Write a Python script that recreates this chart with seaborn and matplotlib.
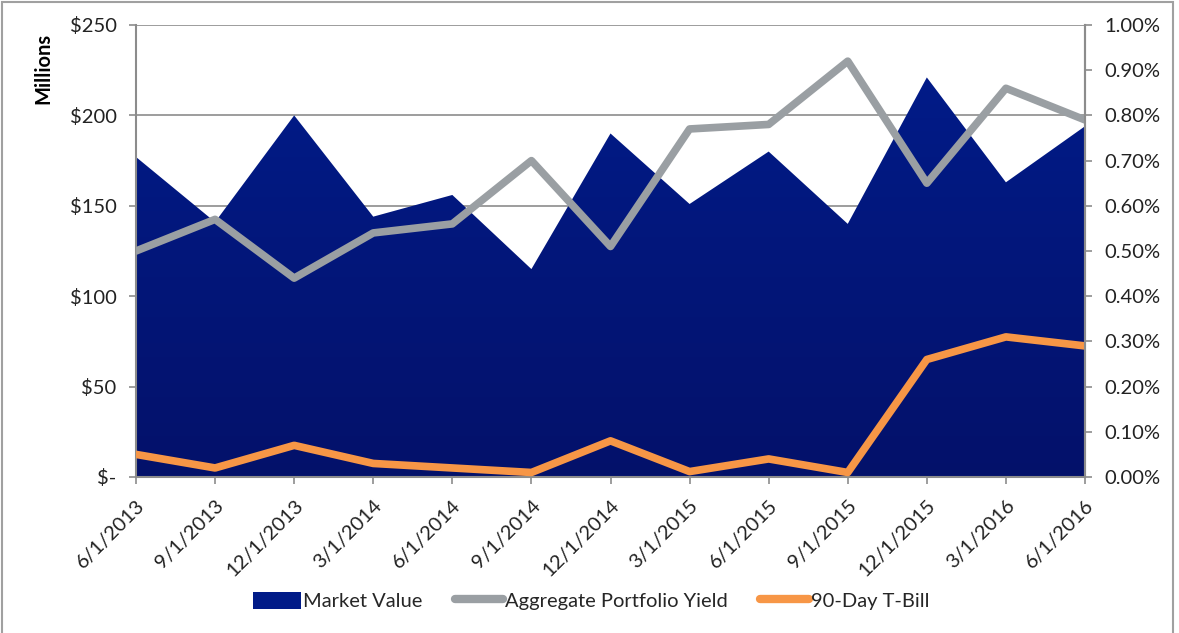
import numpy as np
import pandas as pd
import matplotlib
matplotlib.use("Agg")
import matplotlib.pyplot as plt
import seaborn as sns
from matplotlib.colors import LinearSegmentedColormap
from matplotlib.lines import Line2D
from matplotlib.patches import Patch, Rectangle
from matplotlib.ticker import FuncFormatter

# --- Data ---
dates = ["6/1/2013", "9/1/2013", "12/1/2013", "3/1/2014", "6/1/2014", "9/1/2014",
         "12/1/2014", "3/1/2015", "6/1/2015", "9/1/2015", "12/1/2015", "3/1/2016",
         "6/1/2016"]
market_value = [177, 141, 200, 144, 156, 115, 190, 151, 180, 140, 221, 163, 194]   # $ millions
portfolio_yield = [0.50, 0.57, 0.44, 0.54, 0.56, 0.70, 0.51, 0.77, 0.78, 0.92, 0.65, 0.86, 0.79]  # %
tbill_90 = [0.05, 0.02, 0.07, 0.03, 0.02, 0.01, 0.08, 0.012, 0.04, 0.01, 0.26, 0.31, 0.29]  # %

left_ticks = [0, 50, 100, 150, 200, 250]
right_ticks = [0.0, 0.1, 0.2, 0.3, 0.4, 0.5, 0.6, 0.7, 0.8, 0.9, 1.0]

# --- Style ---
NAVY_TOP = "#011b88"
NAVY_BOTTOM = "#04116a"
GREY = "#9a9fa3"
ORANGE = "#f79646"
AXIS_GREY = "#8c8c8c"
FS = 14.5

sns.set_theme(style="white")
plt.rcParams["font.family"] = ["Lato", "DejaVu Sans"]

df = pd.DataFrame({
    "pos": np.arange(len(dates)),
    "date": dates,
    "market_value": market_value,
    "yield": portfolio_yield,
    "tbill": tbill_90,
})

fig = plt.figure(figsize=(11.79, 6.33), dpi=100)
ax = fig.add_axes([136 / 1179, 1 - 477 / 633, (1085 - 136) / 1179, (477 - 25) / 633])

# gradient-filled area for market value
poly = ax.fill_between(df["pos"], 0, df["market_value"], facecolor="none",
                       edgecolor="none", zorder=2)
cmap = LinearSegmentedColormap.from_list("navy", [NAVY_BOTTOM, NAVY_TOP])
grad = np.linspace(0, 1, 256).reshape(-1, 1)
img = ax.imshow(grad, cmap=cmap, origin="lower", aspect="auto",
                extent=[0, len(dates) - 1, 0, max(market_value)], zorder=2)
img.set_clip_path(poly.get_paths()[0], transform=ax.transData)

ax.set_xlim(0, len(dates) - 1)
ax.set_ylim(0, 250)
ax.set_yticks(left_ticks)
ax.yaxis.set_major_formatter(FuncFormatter(lambda v, p: "$-" if v == 0 else f"${v:.0f}"))
ax.set_xticks(df["pos"])
ax.set_xticklabels(dates, rotation=45, ha="right", rotation_mode="anchor")
ax.grid(axis="y", color=AXIS_GREY, linewidth=1.2)
ax.set_axisbelow(True)
ax.set_ylabel("")

ax.tick_params(axis="both", labelsize=FS, colors="#222222", length=5, width=1.2,
               direction="out", color=AXIS_GREY)
ax.tick_params(axis="x", pad=9)
ax.tick_params(axis="y", pad=9)
ax.tick_params(left=True, bottom=True)
ax.spines["top"].set_visible(False)
for side in ["left", "right", "bottom"]:
    ax.spines[side].set_color(AXIS_GREY)
    ax.spines[side].set_linewidth(1.5)

# yields on the secondary axis
ax2 = ax.twinx()
sns.lineplot(data=df, x="pos", y="yield", ax=ax2, color=GREY, linewidth=5.5,
             legend=False)
sns.lineplot(data=df, x="pos", y="tbill", ax=ax2, color=ORANGE, linewidth=5.5,
             legend=False)
ax2.set_ylim(0, 1.0)
ax2.set_yticks(right_ticks)
ax2.yaxis.set_major_formatter(FuncFormatter(lambda v, p: f"{v:.2f}%"))
ax2.set_ylabel("")
ax2.set_xlabel("")
ax.set_xlabel("")
ax2.tick_params(axis="y", labelsize=FS, colors="#222222", length=5, width=1.2,
                direction="out", color=AXIS_GREY, pad=9, right=True)
for side in ["top", "left", "bottom"]:
    ax2.spines[side].set_visible(False)
ax2.spines["right"].set_color(AXIS_GREY)
ax2.spines["right"].set_linewidth(1.5)

fig.text(43 / 1179, 1 - 68 / 633, "Millions", rotation=90, ha="center", va="center",
         fontsize=FS, fontweight="bold", color="black")

handles = [
    Patch(facecolor=NAVY_TOP, edgecolor="none"),
    Line2D([], [], color=GREY, linewidth=6, solid_capstyle="round"),
    Line2D([], [], color=ORANGE, linewidth=6, solid_capstyle="round"),
]
labels = ["Market Value", "Aggregate Portfolio Yield", "90-Day T-Bill"]
fig.legend(handles, labels, loc="center", bbox_to_anchor=(591 / 1179, 1 - 601 / 633),
           ncol=3, frameon=False, fontsize=FS, handlelength=2.4, handleheight=0.9,
           handletextpad=0.1, columnspacing=1.6)

# chart border
fig.patches.append(Rectangle((2 / 1179, -0.05), (1173 - 2) / 1179, 1.05 - 2 / 633,
                             transform=fig.transFigure, fill=False,
                             edgecolor="#a0a0a0", linewidth=1.5))

fig.savefig("out.png", dpi=100)
